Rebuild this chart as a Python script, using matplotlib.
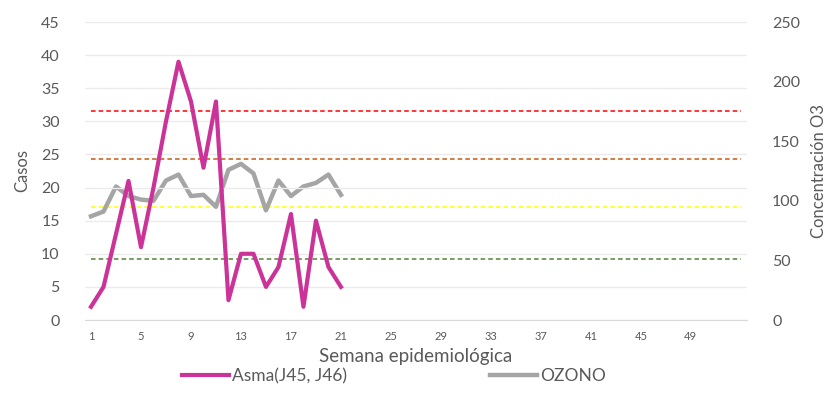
import matplotlib.pyplot as plt

plt.rcParams['font.family'] = ['Lato', 'DejaVu Sans']

# Semanas epidemiológicas
semanas = list(range(1, 54))
semanas_datos = list(range(1, 22))

# Casos de asma (eje izquierdo)
asma = [2, 5, 13, 21, 11, 20, 30, 39, 33, 23, 33, 3, 10, 10, 5, 8, 16, 2, 15, 8, 5]

# Concentración de ozono (eje derecho)
ozono = [87, 91, 112, 104, 101, 100, 117, 122, 104, 105, 95, 126, 131, 123, 92,
         117, 104, 112, 115, 122, 105]

# Umbrales de ozono (ppb)
umbrales = [175, 135, 95, 51]
colores_umbral = ['#FF0000', '#C55A11', '#FFFF00', '#548235']

xticks = list(range(1, 50, 4))

fig = plt.figure(figsize=(8.31, 4), dpi=100)
ax = fig.add_axes([0.102, 0.2, 0.797, 0.745])
ax2 = ax.twinx()

ax.set_zorder(2)
ax.patch.set_visible(False)

for u, c in zip(umbrales, colores_umbral):
    ax2.plot(semanas, [u] * len(semanas), color=c, lw=1.1, ls=(0, (3, 2)))

ax2.plot(semanas_datos, ozono, color='#A5A5A5', lw=3.2, solid_joinstyle='round',
         label='OZONO')
ax.plot(semanas_datos, asma, color='#CC3399', lw=3, solid_joinstyle='round',
        label='Asma(J45, J46)')

ax.set_xlim(0.5, 53.5)
ax.set_ylim(0, 45)
ax.set_yticks(range(0, 46, 5))
ax2.set_ylim(0, 250)
ax2.set_yticks(range(0, 251, 50))
ax.set_xticks(xticks)

ax.grid(axis='y', color='#EBEBEB', lw=1)
ax.set_axisbelow(True)
for a in (ax, ax2):
    for s in a.spines.values():
        s.set_visible(False)
    a.tick_params(length=0, colors='#595959')
ax.spines['bottom'].set_visible(True)
ax.spines['bottom'].set_color('#D9D9D9')

ax.tick_params(axis='y', labelsize=11.5, pad=18)
ax2.tick_params(axis='y', labelsize=11.5, pad=18)
ax.tick_params(axis='x', labelsize=8, pad=8)

ax.set_ylabel('Casos', fontsize=12, color='#595959', labelpad=8)
ax2.set_ylabel('Concentración O3', fontsize=12, color='#595959', labelpad=8)
ax.set_xlabel('Semana epidemiológica', fontsize=13.5, color='#595959', labelpad=4)

h1, l1 = ax.get_legend_handles_labels()
h2, l2 = ax2.get_legend_handles_labels()
fig.legend(h1 + h2, l1 + l2, loc='center', bbox_to_anchor=(0.474, 0.06), ncol=2,
           frameon=False, fontsize=12.5, labelcolor='#595959', handlelength=2.7,
           handletextpad=0.2, columnspacing=8.2)

fig.savefig('out.png', dpi=100)
